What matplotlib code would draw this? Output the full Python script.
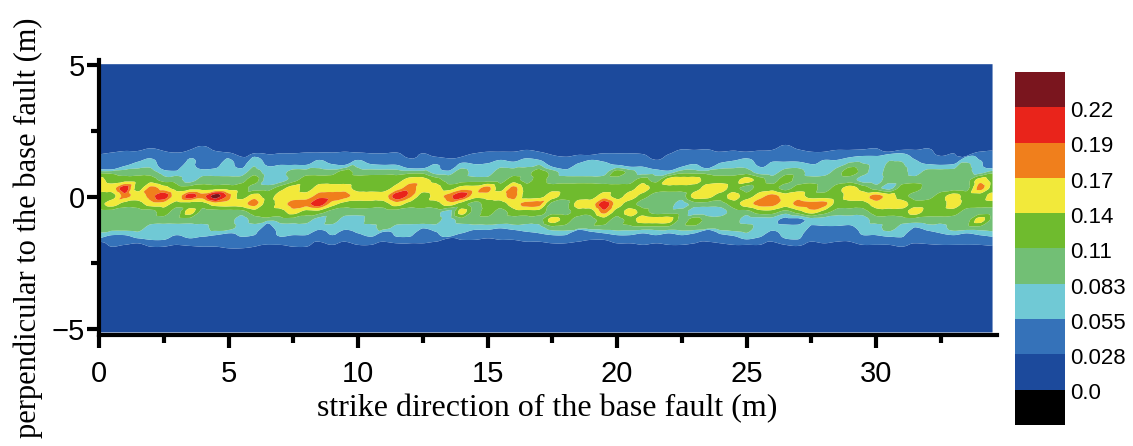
import numpy as np
import matplotlib
matplotlib.use("Agg")
import matplotlib.pyplot as plt
from matplotlib.colors import ListedColormap, BoundaryNorm
from matplotlib.tri import Triangulation, UniformTriRefiner, CubicTriInterpolator, LinearTriInterpolator

# colour band of the field, every 0.5 m along strike
# one list per x station, from the top row (y = 1.87) to the bottom row (y = -2.09)
bands_0_to_12 = [
    [0,1,1,3,5,5,4,4,3,3,3,2,1,0], [0,1,1,3,4,5,4,5,3,3,3,2,1,0],
    [0,1,1,3,4,7,6,4,3,3,3,2,1,0], [0,1,2,3,4,4,5,4,3,3,3,2,1,0],
    [0,1,2,3,4,6,6,5,3,3,2,2,1,0], [0,1,1,2,3,5,7,5,4,3,2,2,1,0],
    [0,1,1,2,3,4,5,4,3,3,1,2,1,0], [0,1,2,2,2,4,7,4,5,3,2,2,1,0],
    [1,1,1,2,3,4,6,4,3,3,2,2,1,0], [0,1,1,2,3,4,8,5,3,3,3,2,1,0],
    [0,1,2,2,3,4,6,5,3,3,3,2,1,0], [0,0,1,2,3,4,4,5,3,2,2,2,1,0],
    [0,1,2,3,4,3,5,6,4,3,2,2,1,0], [0,1,1,2,2,3,4,4,4,3,1,1,1,0],
    [0,1,2,2,2,4,5,5,4,3,2,2,1,0], [0,1,2,3,3,5,5,6,5,3,2,2,1,0],
    [0,1,2,3,4,4,5,6,4,3,2,2,1,0], [0,1,2,3,4,5,6,7,4,2,2,1,1,0],
    [0,1,2,3,4,5,6,5,3,3,2,2,1,0], [0,1,2,4,4,5,6,4,3,2,2,1,1,0],
    [0,1,2,3,4,4,5,4,3,2,2,2,1,0], [0,1,2,3,4,4,5,4,3,3,2,2,1,0],
    [0,1,2,3,4,4,5,4,3,3,3,2,1,0], [0,1,2,3,4,5,7,5,3,3,2,2,1,0],
]
bands_12_to_24 = [
    [0,1,1,3,5,6,6,4,3,3,2,2,1,0], [0,1,2,3,5,5,4,4,3,3,2,2,1,0],
    [0,1,2,2,4,5,5,4,3,3,2,2,1,0], [0,1,1,2,3,4,6,5,2,2,2,1,0,0],
    [0,1,2,3,3,5,7,4,5,3,2,1,1,0], [0,1,2,2,3,5,5,3,3,3,2,1,1,0],
    [0,1,2,2,3,6,5,4,4,3,2,1,1,0], [0,1,2,3,3,4,5,4,3,3,2,1,1,0],
    [0,1,2,3,4,6,6,5,4,3,2,1,1,0], [0,1,2,3,3,4,4,6,4,3,2,1,1,0],
    [0,1,2,4,4,4,4,6,4,3,2,1,1,0], [0,1,2,3,3,4,5,3,3,5,3,2,1,0],
    [0,1,1,2,3,4,4,3,3,4,3,2,1,0], [0,1,2,2,3,4,4,5,4,3,3,2,1,0],
    [0,1,2,2,3,4,4,5,4,3,3,2,1,0], [0,1,2,2,3,4,5,7,6,4,3,2,1,0],
    [0,1,2,4,3,4,4,5,4,3,3,2,1,0], [0,1,1,3,3,4,5,4,5,4,3,2,1,0],
    [0,1,1,2,4,5,4,3,4,5,3,2,1,0], [0,1,1,2,3,4,3,3,3,5,3,2,1,0],
    [0,1,1,2,5,4,3,3,3,5,3,2,1,0], [0,1,2,3,5,4,3,2,3,3,3,2,1,0],
    [0,1,2,3,5,4,5,3,2,4,3,2,1,0], [0,1,1,3,4,5,5,3,2,3,3,2,1,0],
]
bands_24_to_end = [
    [0,1,2,3,4,5,4,3,2,3,3,2,1,0], [0,1,2,3,4,4,5,4,3,3,3,2,1,0],
    [0,1,2,3,5,3,4,5,3,2,3,2,1,0], [0,1,1,2,4,4,5,6,4,2,2,2,1,0],
    [0,1,2,2,3,4,6,6,4,2,2,2,1,0], [1,1,2,3,4,3,5,5,3,1,2,2,1,0],
    [0,1,2,3,3,4,5,6,4,1,1,1,1,0], [0,1,2,2,3,4,4,6,5,2,1,1,1,0],
    [0,1,2,2,3,3,4,6,4,2,1,1,1,0], [0,1,2,3,3,4,4,4,3,2,1,1,1,0],
    [0,1,2,4,3,5,5,4,3,2,2,1,1,0], [0,1,2,3,2,4,5,4,3,2,2,2,1,0],
    [0,1,2,2,2,3,6,5,4,3,2,2,1,0], [0,1,2,3,3,2,5,5,4,3,3,2,1,0],
    [0,1,2,3,3,4,4,5,4,3,2,2,1,0], [0,1,1,2,3,4,3,4,5,3,2,2,1,0],
    [0,1,1,3,3,3,3,4,4,3,2,2,1,0], [0,0,1,3,3,3,4,4,4,3,2,2,1,0],
    [0,1,1,3,3,3,5,5,4,3,3,2,1,0], [0,0,2,3,3,3,4,4,3,3,3,2,1,0],
    [0,1,1,2,5,6,4,4,3,5,3,2,1,0], [0,1,1,3,4,4,5,4,3,3,3,2,1,0],
]
band_rows_y = [1.87, 1.57, 1.26, 0.95, 0.65, 0.34, 0.04, -0.27, -0.57, -0.87, -1.18, -1.48, -1.79, -2.09]
band_middle = [0.014, 0.042, 0.069, 0.097, 0.125, 0.155, 0.18, 0.205, 0.235]

# outer edges of the band, y in m at each station
edge_028_top = [1.62,1.69,1.75,1.75,1.85,1.75,1.69,1.79,1.94,1.75,1.69,1.53,1.66,1.63,1.66,1.66,1.69,1.69,1.69,1.72,1.69,1.66,1.66,1.69,
                1.47,1.66,1.53,1.47,1.53,1.66,1.72,1.72,1.72,1.79,1.72,1.60,1.53,1.60,1.60,1.66,1.66,1.66,1.63,1.41,1.63,1.81,1.79,1.81,
                1.72,1.76,1.72,1.76,1.79,1.98,1.81,1.72,1.72,1.79,1.79,1.81,1.85,1.72,1.79,1.79,1.85,1.56,1.66,1.56,1.72,1.76]
edge_055_top = [1.05,1.05,1.18,1.34,1.47,1.03,1.00,1.47,1.05,1.09,1.47,1.09,1.53,1.18,1.22,1.22,1.22,1.41,1.25,1.22,1.41,1.25,1.22,1.22,
                1.09,1.09,1.25,1.00,1.30,1.25,1.28,1.41,1.34,1.47,1.41,1.15,1.05,1.28,1.41,1.34,1.22,1.15,1.15,1.05,1.00,1.15,1.25,1.09,
                1.30,1.38,1.47,1.15,1.34,1.34,1.34,1.25,1.41,1.41,1.51,1.56,1.56,1.63,1.66,1.43,1.25,1.22,1.25,1.53,1.41,1.09]
edge_055_bottom = [-1.57,-1.45,-1.45,-1.57,-1.63,-1.63,-1.45,-1.57,-1.51,-1.45,-1.38,-1.51,-1.45,-1.00,-1.51,-1.45,-1.45,-1.25,-1.45,-1.25,-1.38,-1.51,-1.32,-1.51,
                   -1.51,-1.19,-1.32,-1.51,-1.38,-1.25,-1.25,-1.19,-1.25,-1.32,-1.38,-1.45,-1.45,-1.25,-1.32,-1.38,-1.45,-1.45,-1.38,-1.45,-1.38,-1.45,-1.38,-1.25,
                   -1.41,-1.48,-1.61,-1.53,-1.28,-1.58,-1.61,-1.07,-1.10,-1.10,-1.07,-1.45,-1.45,-1.51,-1.53,-1.15,-1.28,-1.38,-1.45,-1.38,-1.45,-1.51]
edge_028_bottom = [-1.70,-1.89,-1.82,-1.76,-1.89,-1.89,-1.82,-1.86,-1.89,-1.89,-1.95,-1.95,-1.89,-1.82,-1.82,-1.89,-1.89,-1.70,-1.82,-1.70,-1.82,-1.82,-1.70,-1.76,
                   -1.76,-1.76,-1.70,-1.57,-1.63,-1.63,-1.57,-1.63,-1.63,-1.70,-1.70,-1.76,-1.76,-1.70,-1.63,-1.63,-1.76,-1.76,-1.82,-1.76,-1.82,-1.82,-1.76,-1.70,
                   -1.76,-1.82,-1.82,-1.82,-1.70,-1.82,-1.86,-1.70,-1.76,-1.70,-1.70,-1.82,-1.82,-1.82,-1.89,-1.76,-1.79,-1.82,-1.82,-1.82,-1.82,-1.86]

field_top = 5.05
field_bottom = -5.15
far_value = 0.014

levels = [0.0, 0.028, 0.055, 0.083, 0.11, 0.14, 0.17, 0.19, 0.22]
level_labels = ["0.0", "0.028", "0.055", "0.083", "0.11", "0.14", "0.17", "0.19", "0.22"]
colors = ["#000000", "#1c4a9c", "#3572b9", "#70c9d5", "#72bf75", "#6fbb2e",
          "#f2e93a", "#f07f1c", "#e9241b", "#7a151e"]

# rows 3..10 of the band lists are the inner part, the outer part comes from the edges
columns = bands_0_to_12 + bands_12_to_24 + bands_24_to_end
inner = np.array(band_middle)[np.array(columns).T[3:11]]
inner[0] = np.maximum(inner[0], band_middle[2])
inner[-1] = np.maximum(inner[-1], band_middle[2])
n_x = inner.shape[1]
xs = np.arange(n_x) * 0.5

inner_y = np.tile(np.array(band_rows_y[3:11])[:, None], (1, n_x))
inner_y[0] = np.minimum(inner_y[0], np.array(edge_055_top) - 0.06)
inner_y[-1] = np.maximum(inner_y[-1], np.array(edge_055_bottom) + 0.06)

Y = np.vstack([
    np.full(n_x, field_top), np.full(n_x, 2.6), edge_028_top, edge_055_top,
    inner_y,
    edge_055_bottom, edge_028_bottom, np.full(n_x, -2.6), np.full(n_x, field_bottom),
])
Z = np.vstack([
    np.full(n_x, far_value), np.full(n_x, far_value), np.full(n_x, levels[1]), np.full(n_x, levels[2]),
    inner,
    np.full(n_x, levels[2]), np.full(n_x, levels[1]), np.full(n_x, far_value), np.full(n_x, far_value),
])
X = np.tile(xs, (Y.shape[0], 1))

# triangles follow the grid, then refine so the contours come out rounded
n_y = Y.shape[0]
ids = np.arange(n_y * n_x).reshape(n_y, n_x)
tris = np.vstack([
    np.c_[ids[:-1, :-1].ravel(), ids[:-1, 1:].ravel(), ids[1:, :-1].ravel()],
    np.c_[ids[:-1, 1:].ravel(), ids[1:, 1:].ravel(), ids[1:, :-1].ravel()],
])
tri = Triangulation(X.ravel(), Y.ravel(), tris)
refiner = UniformTriRefiner(tri)
fine_tri, fine_z = refiner.refine_field(Z.ravel(), triinterpolator=CubicTriInterpolator(tri, Z.ravel(), kind="geom"), subdiv=3)
_, flat_z = refiner.refine_field(Z.ravel(), triinterpolator=LinearTriInterpolator(tri, Z.ravel()), subdiv=3)
# keep the rounding close to the plain surface, so it makes no stray spots
fine_z = np.clip(fine_z, flat_z - 0.005, flat_z + 0.012)

W, H = 1133, 446
fig = plt.figure(figsize=(W / 100, H / 100), dpi=100)

# main axes, placed in pixels
ax = fig.add_axes([99 / W, 1 - 335 / H, (997 - 99) / W, (335 - 60) / H])
cmap = ListedColormap(colors[1:-1])
cmap.set_under(colors[0])
cmap.set_over(colors[-1])
norm = BoundaryNorm(levels, cmap.N)
ax.tricontourf(fine_tri, fine_z, levels=levels, cmap=cmap, norm=norm, extend="both", antialiased=True)

ax.set_xlim(0, (997 - 99) / 25.9)
ax.set_ylim((197 - 335) / 26.3, (197 - 60) / 26.3)
ax.spines["top"].set_visible(False)
ax.spines["right"].set_visible(False)
ax.spines["left"].set_linewidth(3)
ax.spines["bottom"].set_linewidth(3)

ax.set_xticks(np.arange(0, 31, 5))
ax.set_xticks(np.arange(2.5, 33, 5), minor=True)
ax.set_yticks([-5, 0, 5])
ax.set_yticks([-2.5, 2.5], minor=True)
ax.tick_params(which="major", length=9, width=3, labelsize=21)
ax.tick_params(axis="x", which="major", pad=9)
ax.tick_params(axis="y", which="major", pad=1)
ax.tick_params(which="minor", length=5.5, width=3)
for lab in ax.get_xticklabels() + ax.get_yticklabels():
    lab.set_fontfamily("Liberation Sans")

fig.text(547 / W, 1 - 409 / H, "strike direction of the base fault (m)",
         family="Liberation Serif", fontsize=23, ha="center", va="center")
fig.text(28 / W, 1 - 18 / H, "perpendicular to the base fault (m)",
         family="Liberation Serif", fontsize=22, rotation=90, ha="center", va="top")

# colour key on the right
cax = fig.add_axes([1015 / W, 1 - 425 / H, 50 / W, (425 - 72) / H])
cax.barh(np.arange(len(colors)), [1] * len(colors), height=1.0, color=colors, align="edge")
cax.set_xlim(0, 1)
cax.set_ylim(0, len(colors))
cax.set_xticks([])
cax.yaxis.tick_right()
cax.set_yticks(np.arange(1, len(colors)) - 0.05)
cax.set_yticklabels(level_labels, family="Liberation Sans", fontsize=16)
cax.tick_params(axis="y", length=0, pad=4)
for side in cax.spines.values():
    side.set_visible(False)

fig.savefig("out.png", dpi=100)
